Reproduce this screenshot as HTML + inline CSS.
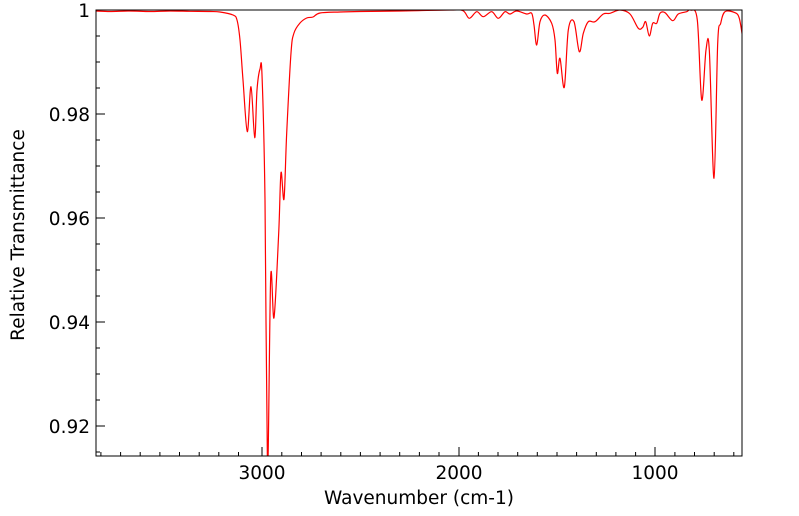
<!DOCTYPE html>
<html><head><meta charset="utf-8"><style>
html,body{margin:0;padding:0;background:#fff;}
svg{display:block;font-family:"DejaVu Sans","Liberation Sans",sans-serif;}
</style></head><body>
<svg width="799" height="516" viewBox="0 0 799 516">
<defs><clipPath id="c"><rect x="96" y="10" width="646" height="446"/></clipPath></defs>
<g clip-path="url(#c)">
<path id="sp" fill="none" stroke="#ff0000" stroke-width="1.2" stroke-linejoin="round" d=""/>
</g>
<rect x="96" y="10" width="646" height="446" fill="none" stroke="#000" stroke-width="1"/>
<g stroke="#000" stroke-width="1">
<path d="M 100.9 456 v-4 M 120.6 456 v-4 M 140.2 456 v-4 M 159.9 456 v-4 M 179.5 456 v-4 M 199.2 456 v-4 M 218.8 456 v-4 M 238.5 456 v-4 M 262 456 v-9 M 281.8 456 v-4 M 301.5 456 v-4 M 321.1 456 v-4 M 340.8 456 v-4 M 360.4 456 v-4 M 380.1 456 v-4 M 399.7 456 v-4 M 419.4 456 v-4 M 439 456 v-4 M 459 456 v-9 M 478.4 456 v-4 M 498 456 v-4 M 517.7 456 v-4 M 537.3 456 v-4 M 557 456 v-4 M 576.6 456 v-4 M 596.3 456 v-4 M 615.9 456 v-4 M 635.6 456 v-4 M 655 456 v-9 M 674.9 456 v-4 M 694.5 456 v-4 M 714.2 456 v-4 M 733.8 456 v-4"/>
<path d="M96 10 h9 M96 36 h4 M96 62 h4 M96 88 h4 M96 114 h9 M96 140 h4 M96 166 h4 M96 192 h4 M96 218 h9 M96 244 h4 M96 270 h4 M96 296 h4 M96 322 h9 M96 348 h4 M96 374 h4 M96 400 h4 M96 426 h9 M96 452 h4"/>
</g>
<g font-size="18.5" fill="#000" text-anchor="end">
<text x="90" y="17">1</text>
<text x="90" y="121">0.98</text>
<text x="90" y="225">0.96</text>
<text x="90" y="329">0.94</text>
<text x="90" y="433">0.92</text>
</g>
<g font-size="18.5" fill="#000" text-anchor="middle">
<text x="262" y="479">3000</text>
<text x="459" y="479">2000</text>
<text x="655" y="479">1000</text>
<text x="419" y="504">Wavenumber (cm-1)</text>
<text transform="translate(24,235) rotate(-90)">Relative Transmittance</text>
</g>
</svg>
<script>
var s="96,11 110,11.5 130,11 150,11.5 170,11 190,11.3 210,11.5 220,12 233,15 237,20 240,40 243,80 247.3,131.7 251,86.7 254.7,137.7 257,90 260,69 262,75 265,200 267.5,470 270.7,276.7 274,317.7 278.7,233 281,172.7 284,199 286.7,133 291,53 294,33 300,23 306.7,18 313,17 320,13 340,12 360,11.5 400,11 450,10 463,10.7 469.3,18.3 476.7,11.7 483.3,16.7 491.7,11.7 498.3,18.3 505,11.7 510,14 516.7,11 526.7,14 531.7,13.3 534,25 536.7,45 540,21.7 545,15 551.7,23.3 555,40 557.3,73.3 560,58.3 564.3,87.3 568.3,30 574,21.7 579.3,51.7 583.3,33.3 588.3,21.7 595,21.7 603.3,14 610,13.3 620,10 630,14 638.3,28.3 642.7,27.3 645.7,21.7 649.3,36 652.7,23.3 656.7,23.3 660,13.3 665,12.7 672.7,20.7 678.3,14 686.7,11.7 690.7,10 697.3,20 701.7,100 706,50 709.3,50 714,178.3 717.7,43.3 720.7,23.3 725,11.7 735,12.7 739.3,18.3 742.7,38";
var p=s.split(" ").map(function(t){return t.split(",").map(Number);});
var d="M"+p[0][0]+","+p[0][1];
for(var i=0;i<p.length-1;i++){
 var p0=p[i>0?i-1:i],p1=p[i],p2=p[i+1],p3=p[i+2<p.length?i+2:i+1];
 var t=0.5/3;
 var c1x=p1[0]+(p2[0]-p0[0])*t,c1y=p1[1]+(p2[1]-p0[1])*t;
 var c2x=p2[0]-(p3[0]-p1[0])*t,c2y=p2[1]-(p3[1]-p1[1])*t;
 d+=" C"+c1x.toFixed(2)+","+c1y.toFixed(2)+" "+c2x.toFixed(2)+","+c2y.toFixed(2)+" "+p2[0]+","+p2[1];
}
document.getElementById("sp").setAttribute("d",d);
</script>
</body></html>
